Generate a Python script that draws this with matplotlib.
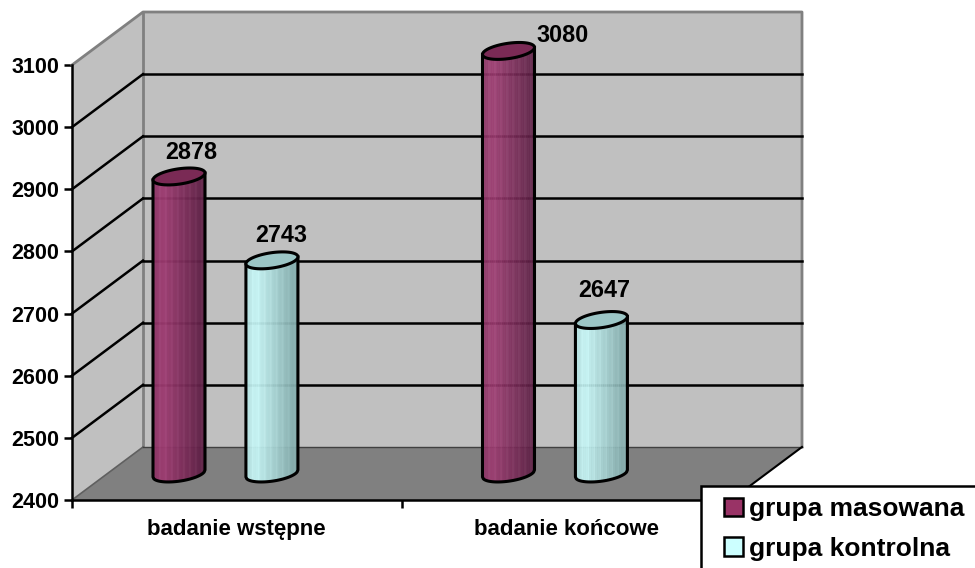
import numpy as np
import matplotlib
matplotlib.use('Agg')
import matplotlib.pyplot as plt
from matplotlib.collections import PolyCollection
from matplotlib.colors import to_rgb
from matplotlib.patches import Patch, Polygon, Rectangle
from matplotlib.transforms import Affine2D, IdentityTransform

# Data
categories = ['badanie wstępne', 'badanie końcowe']
series_names = ['grupa masowana', 'grupa kontrolna']
masowana = [2878, 3080]
kontrolna = [2743, 2647]
y_ticks = [2400, 2500, 2600, 2700, 2800, 2900, 3000, 3100]

# Look of the fake 3D box, all in pixels
DEPTH_X, DEPTH_Y = 71, 53
BAR_R = 26
TILT = 3.5
CAP_B = 7.7
WALL = '#C0C0C0'
FLOOR = '#808080'
EDGE = '#808080'

plt.rcParams['font.family'] = ['Liberation Sans', 'DejaVu Sans']
plt.rcParams['font.weight'] = 'bold'

fig = plt.figure(figsize=(9.75, 5.68), dpi=100)
ax = fig.add_axes([72 / 975, 68 / 568, 659 / 975, 435 / 568])
ax.set_xlim(0, 2)
ax.set_ylim(2400, 3100)
ax.patch.set_visible(False)
for s in ['top', 'right']:
    ax.spines[s].set_visible(False)
for s in ['left', 'bottom']:
    ax.spines[s].set_linewidth(1.8)
    ax.spines[s].set_zorder(6)

ax.set_yticks(y_ticks)
ax.set_xticks([0, 1, 2])
ax.set_xticklabels([])
ax.set_xticks([0.5, 1.5], minor=True)
ax.set_xticklabels(categories, minor=True, fontsize=16)
ax.tick_params(axis='y', width=1.8, length=6, labelsize=15.5, pad=3)
ax.tick_params(axis='x', which='major', width=1.8, length=6)
ax.tick_params(axis='x', which='minor', length=0, pad=14)

back = ax.transData + Affine2D().translate(DEPTH_X, DEPTH_Y)


def px(x, v, f=0.0):
    # data point -> display pixels, f = how far into the box
    p = ax.transData.transform((x, v))
    return p[0] + DEPTH_X * f, p[1] + DEPTH_Y * f


# walls and floor
p0 = px(0, 2400)
p1 = px(0, 3100)
p2 = px(0, 3100, 1)
p3 = px(0, 2400, 1)
p4 = px(2, 3100, 1)
p5 = px(2, 2400, 1)
p6 = px(2, 2400)
pix = IdentityTransform()
for pts, col, z in [([p0, p1, p2, p3], WALL, 1), ([p3, p2, p4, p5], WALL, 1), ([p0, p3, p5, p6], FLOOR, 1)]:
    ax.add_patch(Polygon(pts, closed=True, facecolor=col, edgecolor='none', transform=pix, zorder=z, clip_on=False))

ax.plot([p1[0], p2[0], p4[0], p5[0]], [p1[1], p2[1], p4[1], p5[1]], color=EDGE, lw=2, transform=pix, zorder=2, clip_on=False)
ax.plot([p2[0], p3[0]], [p2[1], p3[1]], color=EDGE, lw=2, transform=pix, zorder=2, clip_on=False)
ax.plot([p0[0], p3[0]], [p0[1], p3[1]], color='#606060', lw=1.2, transform=pix, zorder=2, clip_on=False)
ax.plot([p3[0], p5[0]], [p3[1], p5[1]], color='#404040', lw=1, transform=pix, zorder=2, clip_on=False)
ax.plot([p5[0], p6[0]], [p5[1], p6[1]], color='black', lw=1.5, transform=pix, zorder=2, clip_on=False)

# grid lines on side wall and back wall
for v in y_ticks[1:-1]:
    a = px(0, v)
    b = px(0, v, 1)
    ax.plot([a[0], b[0]], [a[1], b[1]], color='black', lw=1.8, transform=pix, zorder=2, clip_on=False)
    ax.plot([0, 2], [v, v], color='black', lw=1.8, transform=back, zorder=2, clip_on=False)


def cylinder(x, v, light, dark, cap, peak=0.2):
    cx, cy = px(x, v, 0.5)
    bx, by = px(x, 2400, 0.5)
    by = by + 25 - 26.5 + 1.5
    light = np.array(to_rgb(light))
    dark = np.array(to_rgb(dark))
    edges = np.linspace(-1, 1, 27)
    low = np.sqrt(1 - edges ** 2)
    verts, cols = [], []
    for i in range(len(edges) - 1):
        u0, u1 = edges[i], edges[i + 1]
        verts.append([
            (cx + BAR_R * u0, by + TILT * u0 - CAP_B * low[i]),
            (cx + BAR_R * u1, by + TILT * u1 - CAP_B * low[i + 1]),
            (cx + BAR_R * u1, cy + TILT * u1 - CAP_B * low[i + 1]),
            (cx + BAR_R * u0, cy + TILT * u0 - CAP_B * low[i]),
        ])
        t = (i + 0.5) / 26
        k = 1 - abs(t - peak) / (1 - peak) if t > peak else 1 - (peak - t) / peak * 0.25
        stripe = 0.03 if i % 3 == 0 else 0.0
        cols.append(np.clip(dark + (light - dark) * k + stripe, 0, 1))
    body = PolyCollection(verts, facecolors=cols, edgecolors=cols, linewidths=0.3, alpha=0.93, transform=pix, zorder=3)
    body.set_clip_on(False)
    ax.add_collection(body, autolim=False)

    # outline: sides and the front arc at the bottom
    t = np.linspace(-1, 1, 61)
    ox = np.r_[cx - BAR_R, bx + BAR_R * t, cx + BAR_R]
    oy = np.r_[cy - TILT, by + TILT * t - CAP_B * np.sqrt(1 - t ** 2), cy + TILT]
    ax.plot(ox, oy, color='black', lw=2.2, transform=pix, zorder=4, clip_on=False)

    # top cap
    a = np.linspace(0, 2 * np.pi, 91)
    cap_pts = np.c_[cx + BAR_R * np.cos(a), cy + TILT * np.cos(a) + CAP_B * np.sin(a)]
    ax.add_patch(Polygon(cap_pts, closed=True, facecolor=cap, edgecolor='black', lw=2.2, transform=pix, zorder=5, clip_on=False))
    return cx, cy


bar_pos = [0.217, 0.499]
styles = [('#9C3A70', '#5A1E42', '#7A2A55'), ('#C6F6F6', '#7DA5A5', '#9CC6C6')]
label_offsets = [[(12, 24), (9, 25)], [(54, 15), (3, 30)]]

for g in range(len(categories)):
    for s, vals in enumerate([masowana, kontrolna]):
        cx, cy = cylinder(g + bar_pos[s], vals[g], *styles[s])
        dx, dy = label_offsets[g][s]
        ax.text(cx + dx, cy + dy, str(vals[g]), transform=pix, ha='center', va='center', fontsize=16.8, zorder=7, clip_on=False)

# legend box runs off the picture on the right and at the bottom
fig.add_artist(Rectangle((701 / 975, -0.05), 0.4, 1 - 486 / 568 + 0.05, transform=fig.transFigure, facecolor='white', edgecolor='black', lw=1.8, zorder=8))
handles = [Patch(facecolor='#993366', edgecolor='black', lw=1.8), Patch(facecolor='#CCFFFF', edgecolor='black', lw=1.8)]
leg = fig.legend(handles, series_names, loc='upper left', bbox_to_anchor=(719 / 975, 1 - 492 / 568), frameon=False, fontsize=19, handlelength=0.72, handleheight=0.72, handletextpad=0.22, labelspacing=0.58, borderpad=0.2, borderaxespad=0)
leg.set_zorder(9)

fig.savefig('out.png', dpi=100)
